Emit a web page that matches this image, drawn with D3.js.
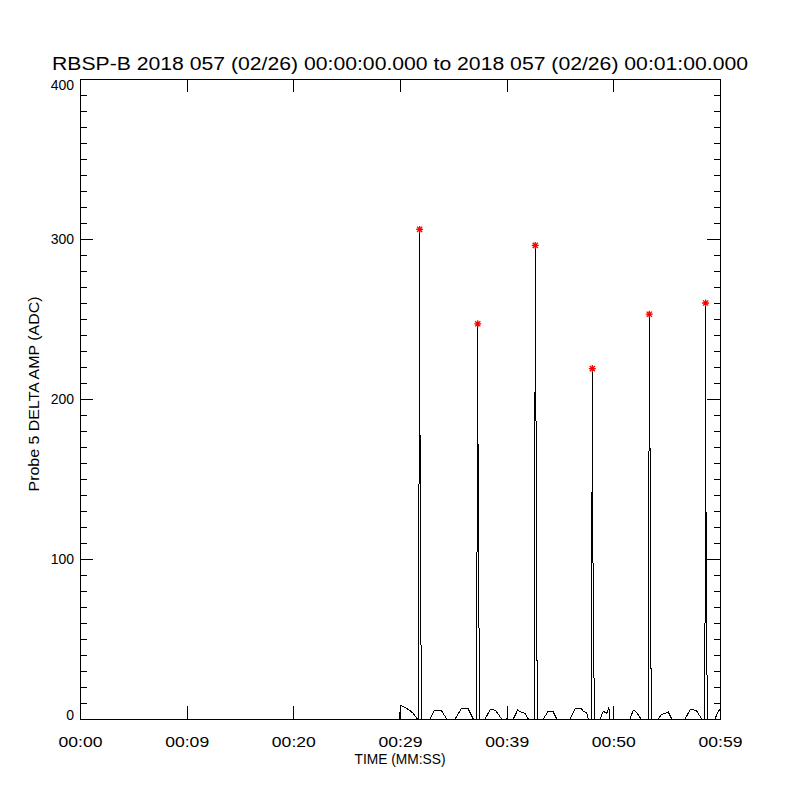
<!DOCTYPE html>
<html>
<head>
<meta charset="utf-8">
<script src="https://cdn.jsdelivr.net/npm/d3@7"></script>
<style>
  body { margin: 0; background: #fff; }
  text { font-family: "Liberation Sans", Arial, sans-serif; fill: #000; }
</style>
</head>
<body>
<div id="chart"></div>
<script>
// Sample times in seconds after 00:00:00
const times = [
  0, 29.98, 30.02, 30.31, 30.78, 31.22, 31.57, 31.73,
  31.84, 31.85, 31.95, 32.02,
  32.81, 33.22, 33.47, 33.91, 34.38,
  35.16, 35.78, 36.40, 36.87, 37.17,
  37.29, 37.30, 37.40, 37.47,
  37.97, 38.44, 38.72, 38.97, 39.53,
  40.03, 40.06, 40.09,
  40.62, 41.03, 41.34, 41.72, 42.03, 42.61,
  42.68, 42.69, 42.79, 42.86,
  43.43, 43.85, 44.37, 44.69,
  45.94, 46.41, 46.69, 47.03, 47.18, 47.50, 47.65, 47.95,
  48.03, 48.04, 48.14, 48.21,
  48.75, 49.06, 49.22, 49.38, 49.50, 49.59, 49.62,
  51.56, 51.87, 52.13, 52.34, 52.59, 53.30,
  53.37, 53.38, 53.48, 53.55,
  54.22, 54.53, 54.84, 55.15, 55.47,
  56.72, 57.19, 57.47, 57.82, 58.28, 58.58,
  58.65, 58.66, 58.76, 58.85,
  59.53, 59.81, 60.00
];

// Probe 5 delta amplitude (ADC) at each sample
const amps = [
  0, 0, 8.5, 7.7, 6.0, 3.7, 0.5, 0,
  306, 218, 64, 0,
  0, 5.2, 5.6, 5.0, 0,
  0, 6.7, 6.3, 0, 0,
  247, 188, 64, 0,
  0, 5.6, 5.9, 5.3, 0,
  0, 7.7, 0,
  0, 5.6, 4.4, 3.5, 0, 0,
  296, 220, 165, 0,
  0, 4.4, 4.4, 0,
  0, 6.3, 6.6, 6.3, 4.6, 4.2, 0, 0,
  219, 114, 84, 0,
  0, 4.8, 4.2, 3.6, 5.4, 7.5, 0,
  0, 5.6, 4.5, 2.5, 0, 0,
  253, 228, 129, 0,
  0, 3.0, 3.3, 4.4, 0,
  0, 5.6, 5.8, 5.0, 0, 0,
  260, 167, 37, 0,
  0, 4.5, 6.0
];

// Axis ticks
const xTickValues = [0, 10, 20, 30, 40, 50, 60];
const xTickLabels = ["00:00", "00:09", "00:20", "00:29", "00:39", "00:50", "00:59"];
const yTickValues = [0, 100, 200, 300, 400];

const titleText = "RBSP-B 2018 057 (02/26) 00:00:00.000 to 2018 057 (02/26) 00:01:00.000";

const width = 800;
const height = 800;
const margin = { top: 79, right: 80, bottom: 81, left: 80 };
const plotW = width - margin.left - margin.right;
const plotH = height - margin.top - margin.bottom;

const data = times.map((t, i) => ({ t: t, v: amps[i] }));

// Peaks are the local maxima above 100 ADC
const peaks = data.filter((d, i) =>
  d.v > 100 && d.v > (data[i - 1] ? data[i - 1].v : 0) && d.v >= (data[i + 1] ? data[i + 1].v : 0));

const svg = d3.select("#chart")
  .append("svg")
  .attr("width", width)
  .attr("height", height);

const x = d3.scaleLinear().domain([0, 60]).range([margin.left, margin.left + plotW]);
const y = d3.scaleLinear().domain([0, 400]).range([margin.top + plotH, margin.top]);

// Title
svg.append("text")
  .attr("x", width / 2)
  .attr("y", 70)
  .attr("text-anchor", "middle")
  .attr("font-size", 18)
  .attr("textLength", 696)
  .attr("lengthAdjust", "spacingAndGlyphs")
  .text(titleText);

// Data line
const line = d3.line()
  .x(d => x(d.t))
  .y(d => y(d.v));

svg.append("path")
  .datum(data)
  .attr("d", line)
  .attr("fill", "none")
  .attr("stroke", "#000")
  .attr("stroke-width", 1)
  .attr("shape-rendering", "crispEdges");

// Red asterisk on each peak (plus + cross, like IDL psym=2)
const r = 3.5, q = 2.6;
const asterisk = `M${-r},0H${r}M0,${-r}V${r}M${-q},${-q}L${q},${q}M${-q},${q}L${q},${-q}`;
svg.selectAll(".peak")
  .data(peaks)
  .enter()
  .append("path")
  .attr("class", "peak")
  .attr("transform", d => `translate(${x(d.t)},${y(d.v)})`)
  .attr("d", asterisk)
  .attr("fill", "none")
  .attr("stroke", "#ff0000")
  .attr("stroke-width", 1.3);

// Axes: bottom/top with major ticks only, left/right with minor ticks
const major = 13, minor = 6.5;
const yMinor = d3.range(0, 401, 10).filter(v => v % 100 !== 0);

svg.append("g")
  .attr("transform", `translate(0,${margin.top + plotH})`)
  .call(d3.axisBottom(x).tickValues(xTickValues).tickSizeInner(-major).tickSizeOuter(0)
    .tickFormat((d, i) => xTickLabels[i]).tickPadding(18))
  .call(g => g.selectAll("text").attr("font-size", 14).attr("textLength", 44)
    .attr("lengthAdjust", "spacingAndGlyphs"));

svg.append("g")
  .attr("transform", `translate(0,${margin.top})`)
  .call(d3.axisTop(x).tickValues(xTickValues).tickSizeInner(-major).tickSizeOuter(0).tickFormat(""));

svg.append("g")
  .attr("transform", `translate(${margin.left},0)`)
  .call(d3.axisLeft(y).tickValues(yTickValues).tickSizeInner(-major).tickSizeOuter(0)
    .tickFormat(d3.format("d")).tickPadding(6))
  .call(g => g.selectAll("text")
    .attr("font-size", 14)
    // end labels sit just inside the plot range
    .attr("dy", d => d === 400 ? "0.75em" : d === 0 ? "0" : "0.32em"))
  .call(g => g.selectAll(".minor")
    .data(yMinor)
    .enter()
    .append("line")
    .attr("class", "minor")
    .attr("x1", 0).attr("x2", minor)
    .attr("y1", d => y(d)).attr("y2", d => y(d))
    .attr("stroke", "#000"));

svg.append("g")
  .attr("transform", `translate(${margin.left + plotW},0)`)
  .call(d3.axisRight(y).tickValues(yTickValues).tickSizeInner(-major).tickSizeOuter(0).tickFormat(""))
  .call(g => g.selectAll(".minor")
    .data(yMinor)
    .enter()
    .append("line")
    .attr("class", "minor")
    .attr("x1", 0).attr("x2", -minor)
    .attr("y1", d => y(d)).attr("y2", d => y(d))
    .attr("stroke", "#000"));

svg.selectAll(".domain, .tick line, .minor").attr("shape-rendering", "crispEdges");

// Axis titles
svg.append("text")
  .attr("x", margin.left + plotW / 2)
  .attr("y", 764)
  .attr("text-anchor", "middle")
  .attr("font-size", 14)
  .attr("textLength", 91)
  .attr("lengthAdjust", "spacingAndGlyphs")
  .text("TIME (MM:SS)");

svg.append("text")
  .attr("transform", `translate(39,${margin.top + plotH / 2 - 5}) rotate(-90)`)
  .attr("text-anchor", "middle")
  .attr("font-size", 14)
  .attr("textLength", 195)
  .attr("lengthAdjust", "spacingAndGlyphs")
  .text("Probe 5 DELTA AMP (ADC)");
</script>
</body>
</html>
